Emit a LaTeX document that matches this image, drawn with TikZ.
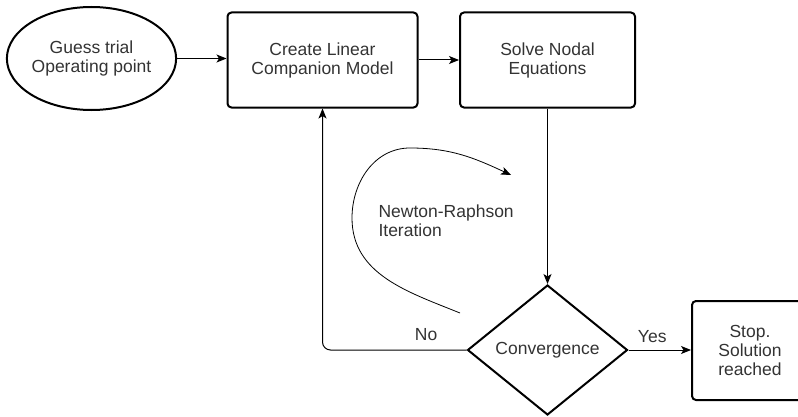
\documentclass[tikz,border=0pt]{standalone}
\usepackage{fontspec}
\setmainfont{Liberation Sans}
\usetikzlibrary{positioning,arrows.meta,shapes.geometric}

\begin{document}
\begin{tikzpicture}[x=1pt, y=1pt, font=\fontsize{17.5}{19}\selectfont,
  box/.style={draw, line width=2pt, rounded corners=4pt, align=center, text=black!80},
  link/.style={-{Stealth[length=10pt,width=8pt,inset=2.5pt]}, line width=1pt},
  lbl/.style={text=black!80}]
  \useasboundingbox (0,0) rectangle (798,416);
  % Start point
  \node[draw, ellipse, line width=2pt, minimum width=161pt, minimum height=103pt,
    inner sep=0pt, align=center, text=black!80] (guess) at (91.5,357.5)
    {Guess trial\\Operating point};
  % Process steps
  \node[box, minimum width=190pt, minimum height=95pt] (create) at (322.5,356)
    {Create Linear\\Companion Model};
  \node[box, minimum width=175pt, minimum height=95pt] (solve) at (547.5,356)
    {Solve Nodal\\Equations};
  % Decision
  \node[draw, diamond, line width=2pt, aspect=1.23, inner sep=0pt,
    minimum width=160pt, minimum height=130pt, text=black!80] (conv) at (547.5,66)
    {Convergence};
  % End
  \node[box, minimum width=116pt, minimum height=99pt] (stop) at (750,65.5)
    {Stop.\\Solution\\reached};
  % Connectors
  \draw[link] (guess.east) -- (guess.east -| create.west);
  \draw[link] (create.east |- solve.west) -- (solve.west);
  \draw[link] (solve.south) -- (conv.north);
  \draw[link] (conv.east) -- (conv.east -| stop.west)
    node[lbl, pos=0.38, above=3pt] (yes) {Yes};
  \draw[link, rounded corners=8pt] (conv.west) -| (create.south)
    node[lbl, pos=0.14, above=5pt] (no) {No};
  % Iteration loop
  \draw[link, line width=0.8pt] (460,103) to[out=158,in=-90] (352,198)
    to[out=90,in=180] (410,268) to[out=0,in=155] (511,241);
  \node[lbl, anchor=west, align=left] (nr) at (375,195) {Newton-Raphson\\Iteration};
\end{tikzpicture}
\end{document}
